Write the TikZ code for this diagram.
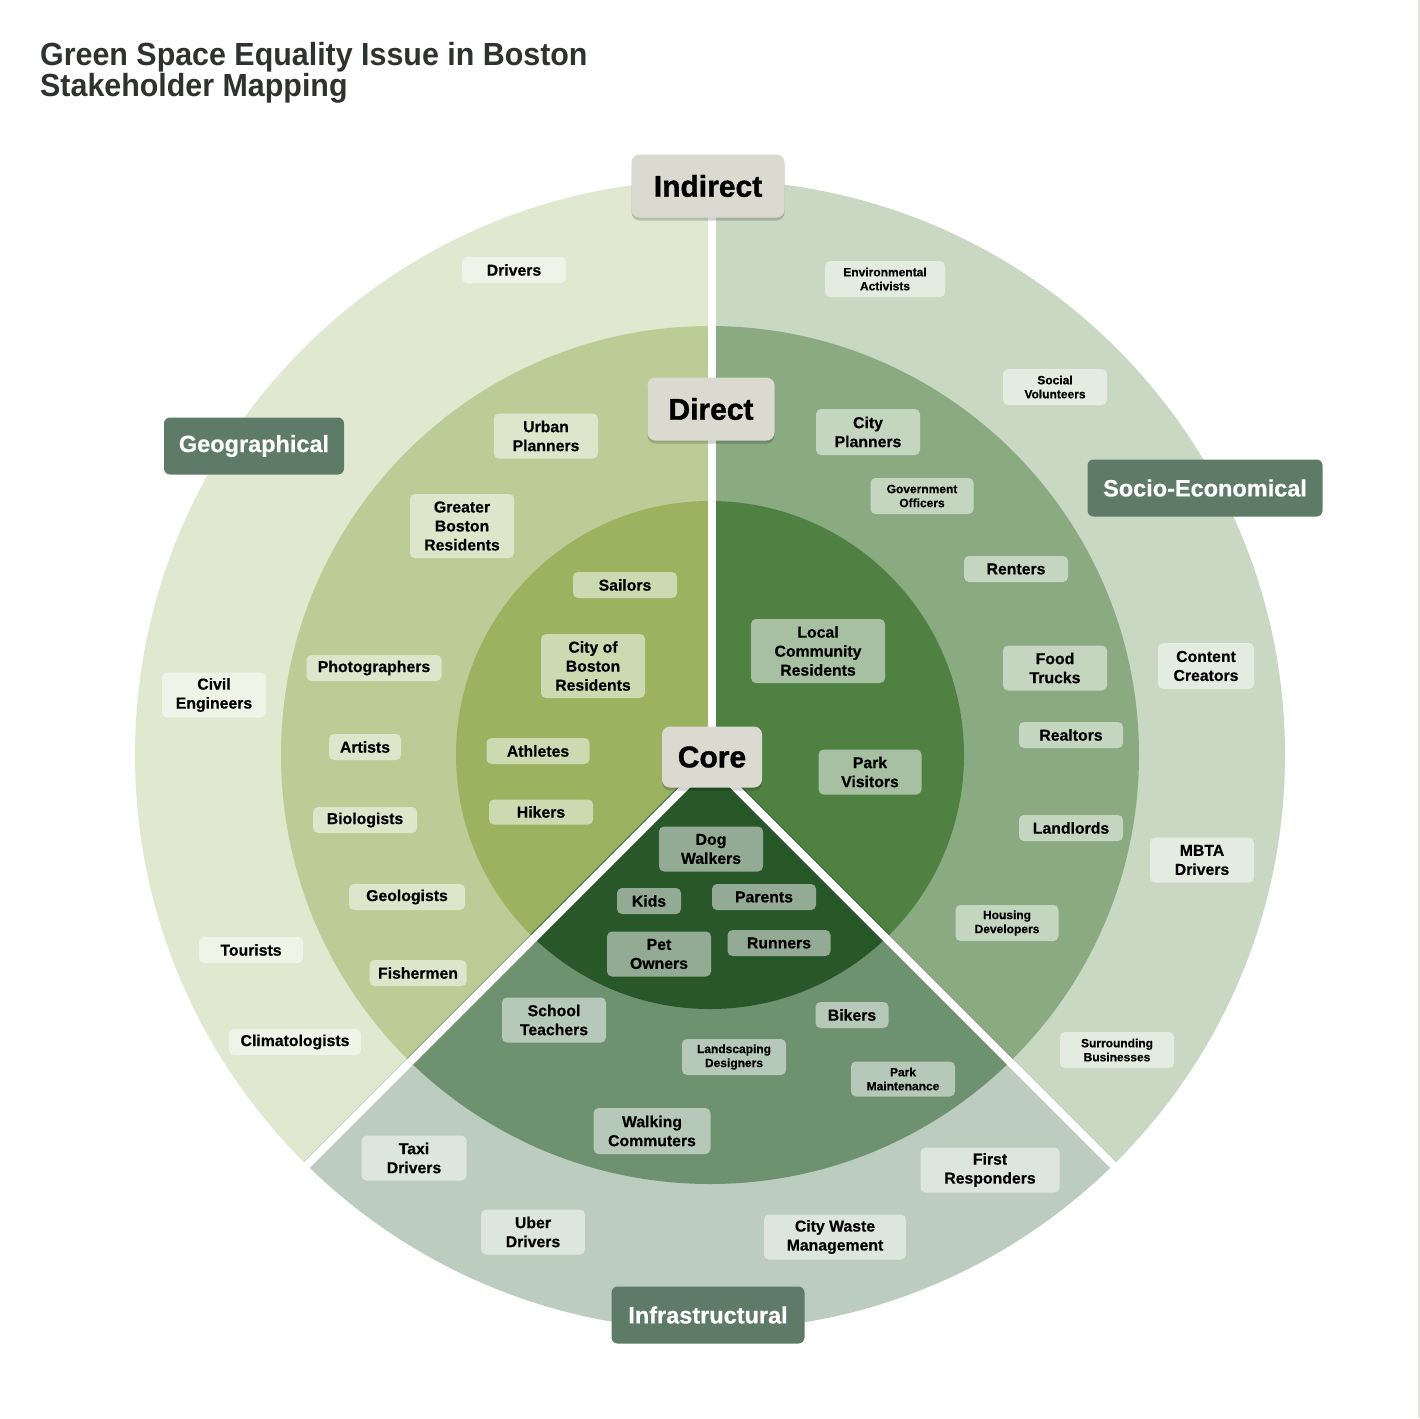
\documentclass[tikz,border=0pt]{standalone}
\usepackage{fontspec}
\setmainfont{Liberation Sans}
\usetikzlibrary{shadows}
\definecolor{geoO}{HTML}{E1E8D0}
\definecolor{geoM}{HTML}{BCCC96}
\definecolor{geoI}{HTML}{9BB361}
\definecolor{socO}{HTML}{C9D8C3}
\definecolor{socM}{HTML}{8AAB82}
\definecolor{socI}{HTML}{4F8143}
\definecolor{infO}{HTML}{BCCCBF}
\definecolor{infM}{HTML}{6E9270}
\definecolor{infI}{HTML}{285829}
\definecolor{layerfill}{HTML}{DADAD0}
\definecolor{catfill}{HTML}{5E7B68}
\definecolor{titlecol}{HTML}{2F332F}
\definecolor{edgecol}{HTML}{E2E3DF}
\tikzset{
  sh/.style={rounded corners=5pt, fill=white, fill opacity=0.5, text opacity=1, text=black,
    inner sep=0pt, align=center, font=\bfseries\fontsize{15.8}{19}\selectfont\addfontfeatures{FakeBold=0.5}},
  shs/.style={sh, font=\bfseries\fontsize{12}{14}\selectfont\addfontfeatures{FakeBold=0.4}},
  layerlab/.style={rounded corners=8pt, fill=layerfill, text=black, inner sep=0pt,
    font=\bfseries\fontsize{30}{30}\selectfont\addfontfeatures{FakeBold=1.2},
    drop shadow={shadow xshift=0pt, shadow yshift=-3pt, opacity=0.18, fill=black}},
  catlab/.style={rounded corners=6pt, fill=catfill, text=white, inner sep=0pt,
    font=\bfseries\fontsize{23.5}{23.5}\selectfont\addfontfeatures{FakeBold=0.5}},
  sep/.style={white, line width=8pt},
  titletext/.style={anchor=base west, text=titlecol, inner sep=0pt,
    font=\bfseries\fontsize{32}{32}\selectfont\addfontfeatures{FakeStretch=0.95}}
}
\begin{document}
\begin{tikzpicture}[x=1pt, y=-1pt]
\useasboundingbox[fill=white] (0,0) rectangle (1420,1418);
\fill[edgecol] (1417.5,0) rectangle (1420,1418);

\coordinate (C) at (710,755);

% Geographical sector
\begin{scope}
\clip (710,755) -- (710,-200) -- (-1000,-200) -- (-1000,2465) -- cycle;
\fill[geoO] (C) circle[radius=575pt];
\fill[geoM] (C) circle[radius=429pt];
\fill[geoI] (C) circle[radius=254pt];
\end{scope}
% Socio-economical sector
\begin{scope}
\clip (710,755) -- (710,-200) -- (2420,-200) -- (2420,2465) -- cycle;
\fill[socO] (C) circle[radius=575pt];
\fill[socM] (C) circle[radius=429pt];
\fill[socI] (C) circle[radius=254pt];
\end{scope}
% Infrastructural sector
\begin{scope}
\clip (710,755) -- (-1000,2465) -- (2420,2465) -- cycle;
\fill[infO] (C) circle[radius=575pt];
\fill[infM] (C) circle[radius=429pt];
\fill[infI] (C) circle[radius=254pt];
\end{scope}

% separators
\coordinate (vs) at (712,762);
\coordinate (vt) at (712,160);
\coordinate (ds) at (710,762);
\coordinate (dl) at (296,1176);
\coordinate (dr) at (1124,1176);
\draw[sep] (vs) -- (vt);
\draw[sep] (ds) -- (dl);
\draw[sep] (ds) -- (dr);

% title
\node[titletext] (title1) at (40,66) {Green Space Equality Issue in Boston};
\node[titletext] (title2) at (40,97) {Stakeholder Mapping};

% Geographical outer
\node[sh, minimum width=104, minimum height=26] (drivers) at (514,270) {Drivers};
\node[sh, minimum width=104, minimum height=45] (civil) at (214,695) {Civil\\Engineers};
\node[sh, minimum width=104, minimum height=26] (tourists) at (251,950) {Tourists};
\node[sh, minimum width=132, minimum height=26] (clim) at (295,1042) {Climatologists};
% Geographical middle
\node[sh, minimum width=104, minimum height=45] (urban) at (546,436) {Urban\\Planners};
\node[sh, minimum width=104, minimum height=64] (greater) at (462,526) {Greater\\Boston\\Residents};
\node[sh, minimum width=135, minimum height=26] (photo) at (374,668) {Photographers};
\node[sh, minimum width=72, minimum height=26] (artists) at (365,747) {Artists};
\node[sh, minimum width=104, minimum height=26] (bio) at (365,820) {Biologists};
\node[sh, minimum width=116, minimum height=26] (geol) at (407,897) {Geologists};
\node[sh, minimum width=97, minimum height=26] (fish) at (418,973) {Fishermen};
% Geographical inner
\node[sh, minimum width=104, minimum height=26] (sailors) at (625,585) {Sailors};
\node[sh, minimum width=104, minimum height=64] (cityboston) at (593,666) {City of\\Boston\\Residents};
\node[sh, minimum width=103, minimum height=26] (athletes) at (538,751) {Athletes};
\node[sh, minimum width=104, minimum height=25] (hikers) at (541,812) {Hikers};

% Socio outer
\node[shs, minimum width=120, minimum height=36] (envact) at (885,279) {Environmental\\Activists};
\node[shs, minimum width=104, minimum height=36] (socvol) at (1055,387) {Social\\Volunteers};
\node[sh, minimum width=96, minimum height=46] (content) at (1206,666) {Content\\Creators};
\node[sh, minimum width=104, minimum height=45] (mbta) at (1202,860) {MBTA\\Drivers};
\node[shs, minimum width=114, minimum height=36] (surr) at (1117,1050) {Surrounding\\Businesses};
% Socio middle
\node[sh, minimum width=104, minimum height=46] (cityplan) at (868,432) {City\\Planners};
\node[shs, minimum width=103, minimum height=36] (gov) at (922,496) {Government\\Officers};
\node[sh, minimum width=104, minimum height=26] (renters) at (1016,569) {Renters};
\node[sh, minimum width=104, minimum height=45] (food) at (1055,668) {Food\\Trucks};
\node[sh, minimum width=104, minimum height=26] (realtors) at (1071,735) {Realtors};
\node[sh, minimum width=104, minimum height=26] (landlords) at (1071,828) {Landlords};
\node[shs, minimum width=103, minimum height=36] (housing) at (1007,923) {Housing\\Developers};
% Socio inner
\node[sh, minimum width=134, minimum height=64] (local) at (818,651) {Local\\Community\\Residents};
\node[sh, minimum width=103, minimum height=45] (parkvis) at (870,772) {Park\\Visitors};

% Infrastructural outer
\node[sh, minimum width=105, minimum height=45] (taxi) at (414,1158) {Taxi\\Drivers};
\node[sh, minimum width=104, minimum height=45] (uber) at (533,1232) {Uber\\Drivers};
\node[sh, minimum width=142, minimum height=45] (waste) at (835,1237) {City Waste\\Management};
\node[sh, minimum width=139, minimum height=45] (first) at (990,1170) {First\\Responders};
% Infrastructural middle
\node[sh, minimum width=104, minimum height=45] (school) at (554,1020) {School\\Teachers};
\node[shs, minimum width=104, minimum height=36] (landsc) at (734,1057) {Landscaping\\Designers};
\node[sh, minimum width=73, minimum height=26] (bikers) at (852,1015) {Bikers};
\node[shs, minimum width=104, minimum height=35] (parkm) at (903,1079) {Park\\Maintenance};
\node[sh, minimum width=117, minimum height=46] (walking) at (652,1131) {Walking\\Commuters};
% Infrastructural inner
\node[sh, minimum width=104, minimum height=45] (dog) at (711,849) {Dog\\Walkers};
\node[sh, minimum width=64, minimum height=26] (kids) at (649,901) {Kids};
\node[sh, minimum width=104, minimum height=26] (parents) at (764,897) {Parents};
\node[sh, minimum width=104, minimum height=45] (pet) at (659,954) {Pet\\Owners};
\node[sh, minimum width=103, minimum height=26] (runners) at (779,943) {Runners};

% layer labels
\node[layerlab, minimum width=153, minimum height=63] (indirect) at (708,186) {Indirect};
\node[layerlab, minimum width=127, minimum height=63] (direct) at (711,409) {Direct};
\node[layerlab, minimum width=100, minimum height=61] (core) at (712,757) {Core};

% category labels
\node[catlab, minimum width=180, minimum height=57] (geog) at (254,446) {Geographical};
\node[catlab, minimum width=235, minimum height=57] (socio) at (1205,488) {Socio-Economical};
\node[catlab, minimum width=193, minimum height=57] (infra) at (708,1315) {Infrastructural};
\end{tikzpicture}
\end{document}
